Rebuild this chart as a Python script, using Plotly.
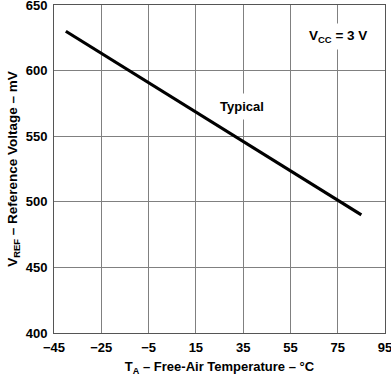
import plotly.graph_objects as go

temperature_c = [-40, 85]
vref_mv = [630, 490]
x_ticks = [-45, -25, -5, 15, 35, 55, 75, 95]
x_tick_labels = ["\u221245", "\u221225", "\u22125", "15", "35", "55", "75", "95"]
y_ticks = [400, 450, 500, 550, 600, 650]

font_family = "Liberation Sans, Arial, sans-serif"

fig = go.Figure()
fig.add_trace(go.Scatter(x=temperature_c, y=vref_mv, mode="lines",
                         line=dict(color="black", width=3.2), showlegend=False,
                         hoverinfo="skip"))

fig.update_xaxes(range=[-45, 95], tickvals=x_ticks, ticktext=x_tick_labels,
                 showgrid=True, gridcolor="#808080", gridwidth=1,
                 showline=True, linecolor="#555555", linewidth=1, mirror=True,
                 zeroline=False, ticks="outside", ticklen=2, tickcolor="white",
                 automargin=False, ticklabeloverflow="allow",
                 tickfont=dict(family=font_family, size=13, color="black", weight="bold"),
                 title=dict(text="<b>T<sub>A</sub> \u2013 Free-Air Temperature \u2013 \u00b0C</b>",
                            font=dict(family=font_family, size=13, color="black"), standoff=8))
fig.update_yaxes(range=[400, 650], tickvals=y_ticks,
                 showgrid=True, gridcolor="#808080", gridwidth=1,
                 showline=True, linecolor="#555555", linewidth=1, mirror=True,
                 zeroline=False, ticks="outside", ticklen=3, tickcolor="white",
                 automargin=False, ticklabeloverflow="allow",
                 tickfont=dict(family=font_family, size=13, color="black", weight="bold"),
                 title=dict(text="<b>V<sub>REF</sub> \u2013 Reference Voltage \u2013 mV</b>",
                            font=dict(family=font_family, size=13.5, color="black"), standoff=4))

fig.add_annotation(x=34.7, y=573, text="<b>Typical</b>", showarrow=False,
                   font=dict(family=font_family, size=13, color="black"),
                   bgcolor="white", borderpad=5)
fig.add_annotation(x=75, y=626, text="<b>V<sub>CC</sub> = 3 V</b>", showarrow=False,
                   font=dict(family=font_family, size=13.5, color="black"),
                   bgcolor="white", borderpad=4)

fig.update_layout(width=391, height=379, margin=dict(l=54, r=6, t=5, b=46),
                  plot_bgcolor="white", paper_bgcolor="white")

fig.write_html("out.html", config={"displayModeBar": False},
               post_script="document.body.style.margin='0';")
